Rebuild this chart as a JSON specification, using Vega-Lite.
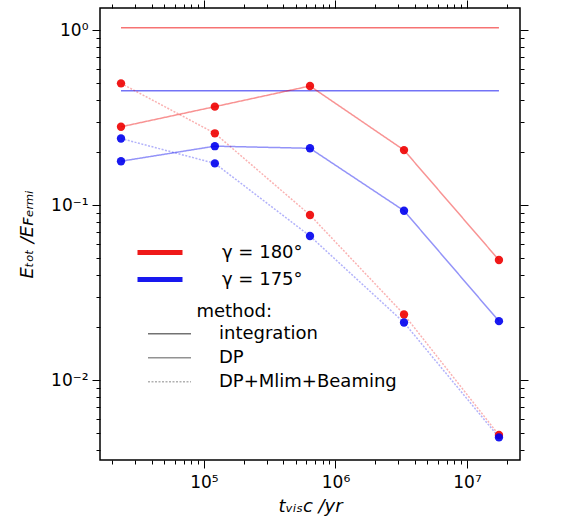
{
  "$schema": "https://vega.github.io/schema/vega-lite/v6.json",
  "width": 420,
  "height": 452,
  "autosize": {"type": "none"},
  "padding": {"left": 100, "top": 8, "right": 46, "bottom": 61},
  "background": "white",
  "config": {
    "view": {"stroke": "black", "strokeWidth": 1.5},
    "font": "DejaVu Sans",
    "axis": {
      "domain": false, "grid": false, "tickColor": "black", "tickWidth": 1,
      "labelFont": "DejaVu Sans", "labelFontSize": 17, "labelColor": "black",
      "titleFont": "DejaVu Sans", "titleFontSize": 18, "titleColor": "black",
      "titleFontWeight": "normal", "titleFontStyle": "italic",
      "labelOverlap": false, "labelFlush": false
    },
    "legend": {"labelFont": "DejaVu Sans", "labelColor": "black", "titleFont": "DejaVu Sans", "titleColor": "black", "labelLimit": 300}
  },
  "data": {"values": [
    {"t": 23400, "E": 1.03, "gamma": "γ = 180°", "method": "integration"},
    {"t": 17500000, "E": 1.03, "gamma": "γ = 180°", "method": "integration"},
    {"t": 23400, "E": 0.45, "gamma": "γ = 175°", "method": "integration"},
    {"t": 17500000, "E": 0.45, "gamma": "γ = 175°", "method": "integration"},
    {"t": 23400, "E": 0.496, "gamma": "γ = 180°", "method": "DP+Mlim+Beaming"},
    {"t": 121000, "E": 0.257, "gamma": "γ = 180°", "method": "DP+Mlim+Beaming"},
    {"t": 640000, "E": 0.0877, "gamma": "γ = 180°", "method": "DP+Mlim+Beaming"},
    {"t": 3320000, "E": 0.0237, "gamma": "γ = 180°", "method": "DP+Mlim+Beaming"},
    {"t": 17500000, "E": 0.00485, "gamma": "γ = 180°", "method": "DP+Mlim+Beaming"},
    {"t": 23400, "E": 0.28, "gamma": "γ = 180°", "method": "DP"},
    {"t": 121000, "E": 0.365, "gamma": "γ = 180°", "method": "DP"},
    {"t": 640000, "E": 0.479, "gamma": "γ = 180°", "method": "DP"},
    {"t": 3320000, "E": 0.206, "gamma": "γ = 180°", "method": "DP"},
    {"t": 17500000, "E": 0.0485, "gamma": "γ = 180°", "method": "DP"},
    {"t": 23400, "E": 0.24, "gamma": "γ = 175°", "method": "DP+Mlim+Beaming"},
    {"t": 121000, "E": 0.173, "gamma": "γ = 175°", "method": "DP+Mlim+Beaming"},
    {"t": 640000, "E": 0.0665, "gamma": "γ = 175°", "method": "DP+Mlim+Beaming"},
    {"t": 3320000, "E": 0.0213, "gamma": "γ = 175°", "method": "DP+Mlim+Beaming"},
    {"t": 17500000, "E": 0.0047, "gamma": "γ = 175°", "method": "DP+Mlim+Beaming"},
    {"t": 23400, "E": 0.178, "gamma": "γ = 175°", "method": "DP"},
    {"t": 121000, "E": 0.217, "gamma": "γ = 175°", "method": "DP"},
    {"t": 640000, "E": 0.211, "gamma": "γ = 175°", "method": "DP"},
    {"t": 3320000, "E": 0.0928, "gamma": "γ = 175°", "method": "DP"},
    {"t": 17500000, "E": 0.0217, "gamma": "γ = 175°", "method": "DP"}
  ]},
  "layer": [
    {
      "mark": {"type": "line", "strokeWidth": 1.5},
      "encoding": {
        "x": {"field": "t", "type": "quantitative",
          "scale": {"type": "log", "domain": [16200, 25300000], "nice": false},
          "axis": {"orient": "bottom",
            "values": [20000,30000,40000,50000,60000,70000,80000,90000,100000,200000,300000,400000,500000,600000,700000,800000,900000,1000000,2000000,3000000,4000000,5000000,6000000,7000000,8000000,9000000,10000000,20000000],
            "tickSize": {"condition": {"test": "datum.value == 100000 || datum.value == 1000000 || datum.value == 10000000", "value": 8}, "value": 4},
            "labelExpr": "datum.value == 100000 ? '10⁵' : datum.value == 1000000 ? '10⁶' : datum.value == 10000000 ? '10⁷' : ''",
            "labelPadding": 6, "title": "tᵥᵢₛᴄ /yr", "titlePadding": 7}},
        "y": {"field": "E", "type": "quantitative",
          "scale": {"type": "log", "domain": [0.00349, 1.337], "nice": false},
          "axis": {"orient": "left",
            "values": [0.004,0.005,0.006,0.007,0.008,0.009,0.01,0.02,0.03,0.04,0.05,0.06,0.07,0.08,0.09,0.1,0.2,0.3,0.4,0.5,0.6,0.7,0.8,0.9,1],
            "tickSize": {"condition": {"test": "datum.value == 1 || datum.value == 0.1 || datum.value == 0.01", "value": 8}, "value": 4},
            "labelExpr": "datum.value == 1 ? '10⁰' : datum.value == 0.1 ? '10⁻¹' : datum.value == 0.01 ? '10⁻²' : ''",
            "labelPadding": 4, "title": "Eₜₒₜ /Eꜰₑᵣₘᵢ", "titlePadding": 14}},
        "color": {"field": "gamma", "type": "nominal",
          "scale": {"domain": ["γ = 180°", "γ = 175°"], "range": ["#ee0000", "#0000ee"]},
          "legend": {"orient": "none", "legendX": 35, "legendY": 232, "title": null,
            "symbolType": "stroke", "symbolStrokeWidth": 5, "symbolSize": 2025, "symbolOpacity": 1,
            "labelFontSize": 18, "labelOffset": 37, "rowPadding": 2, "clipHeight": 25}},
        "strokeDash": {"field": "method", "type": "ordinal",
          "scale": {"domain": ["integration", "DP", "DP+Mlim+Beaming"], "range": [[1, 0], [1, 0], [2, 1.5]]},
          "legend": {"orient": "none", "legendX": 47, "legendY": 295, "title": "method:",
            "titleFontSize": 18, "titleFontWeight": "normal", "titlePadding": 2, "titleAnchor": "middle", "titleAlign": "right",
            "symbolType": "stroke", "symbolSize": 1849, "symbolStrokeWidth": 1.5, "symbolStrokeColor": "black",
            "labelFontSize": 18, "labelOffset": 27, "rowPadding": 2, "clipHeight": 21.5}},
        "opacity": {"field": "method", "type": "ordinal",
          "scale": {"domain": ["integration", "DP", "DP+Mlim+Beaming"], "range": [0.55, 0.3, 0.65]},
          "legend": {"orient": "none", "legendX": 47, "legendY": 295, "title": "method:",
            "titleFontSize": 18, "titleFontWeight": "normal", "titlePadding": 2, "titleAnchor": "middle", "titleAlign": "right",
            "symbolType": "stroke", "symbolSize": 1849, "symbolStrokeWidth": 1.5, "symbolStrokeColor": "black",
            "labelFontSize": 18, "labelOffset": 27, "rowPadding": 2, "clipHeight": 21.5}}
      }
    },
    {
      "transform": [{"filter": "datum.method != 'integration'"}],
      "mark": {"type": "circle", "size": 70, "opacity": 0.9},
      "encoding": {
        "x": {"field": "t", "type": "quantitative", "scale": {"type": "log", "domain": [16200, 25300000], "nice": false}, "axis": null},
        "y": {"field": "E", "type": "quantitative", "scale": {"type": "log", "domain": [0.00349, 1.337], "nice": false}, "axis": null},
        "color": {"field": "gamma", "type": "nominal"}
      }
    },
    {
      "mark": {"type": "point", "opacity": 0},
      "encoding": {
        "x": {"field": "t", "type": "quantitative", "scale": {"type": "log", "domain": [16200, 25300000], "nice": false},
          "axis": {"orient": "top", "labels": false, "title": null,
            "values": [20000,30000,40000,50000,60000,70000,80000,90000,100000,200000,300000,400000,500000,600000,700000,800000,900000,1000000,2000000,3000000,4000000,5000000,6000000,7000000,8000000,9000000,10000000,20000000],
            "tickSize": {"condition": {"test": "datum.value == 100000 || datum.value == 1000000 || datum.value == 10000000", "value": 8}, "value": 4}}},
        "y": {"field": "E", "type": "quantitative", "scale": {"type": "log", "domain": [0.00349, 1.337], "nice": false},
          "axis": {"orient": "right", "labels": false, "title": null,
            "values": [0.004,0.005,0.006,0.007,0.008,0.009,0.01,0.02,0.03,0.04,0.05,0.06,0.07,0.08,0.09,0.1,0.2,0.3,0.4,0.5,0.6,0.7,0.8,0.9,1],
            "tickSize": {"condition": {"test": "datum.value == 1 || datum.value == 0.1 || datum.value == 0.01", "value": 8}, "value": 4}}}
      }
    }
  ],
  "resolve": {"axis": {"x": "independent", "y": "independent"}}
}
